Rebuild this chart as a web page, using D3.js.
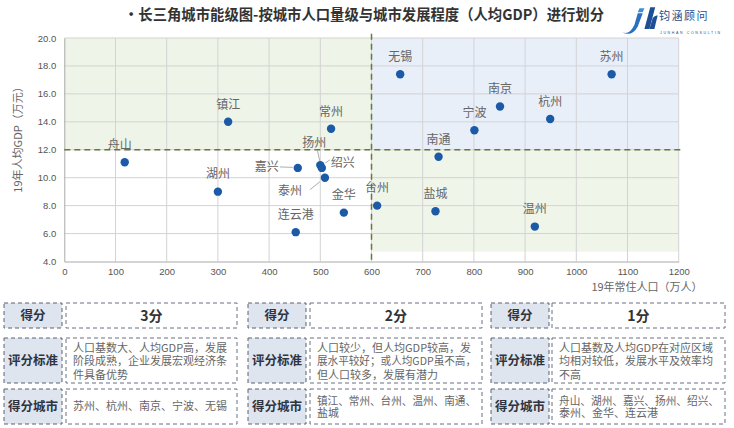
<!DOCTYPE html>
<html><head><meta charset="utf-8">
<script src="https://cdn.jsdelivr.net/npm/d3@7/dist/d3.min.js"></script>
<style>
html,body{margin:0;padding:0;background:#fff;}
svg{display:block;font-family:"Noto Sans CJK SC","Noto Sans",sans-serif;}
</style></head>
<body><svg id="c" width="734" height="428"></svg>
<script>
// ---------- data ----------
const cities = ["舟山","镇江","常州","湖州","嘉兴","扬州","绍兴","泰州","金华","连云港","台州","无锡","苏州","南京","杭州","宁波","南通","盐城","温州"];
const population = [118,320,521,300,456,500,503,509,546,452,611,656,1069,851,949,801,731,725,919];
const gdpPerCapita = [11.1,14.0,13.5,9.0,10.7,10.9,10.7,10.0,7.5,6.1,8.0,17.4,17.4,15.1,14.2,13.4,11.5,7.6,6.5];
const xTicks = [0,100,200,300,400,500,600,700,800,900,1000,1100,1200];
const yTicks = [4,6,8,10,12,14,16,18,20];
const popThreshold = 600;
const gdpThreshold = 12;
const titleText = "•长三角城市能级图-按城市人口量级与城市发展程度（人均GDP）进行划分";
const xTitle = "19年常住人口（万人）";
const yTitle = "19年人均GDP（万元）";
const scoreTitles = ["3分","2分","1分"];
const rowLabels = ["得分","评分标准","得分城市"];
const criteriaLines = [
  ["人口基数大、人均GDP高，发展","阶段成熟，企业发展宏观经济条","件具备优势"],
  ["人口较少，但人均GDP较高，发","展水平较好；或人均GDP虽不高，","但人口较多，发展有潜力"],
  ["人口基数及人均GDP在对应区域","均相对较低，发展水平及效率均","不高"]
];
const cityLines = [
  ["苏州、杭州、南京、宁波、无锡"],
  ["镇江、常州、台州、温州、南通、","盐城"],
  ["舟山、湖州、嘉兴、扬州、绍兴、","泰州、金华、连云港"]
];

// ---------- layout (not data) ----------
const labelLayout = {
  "舟山":{dx:-5,dy:-18}, "嘉兴":{dx:-31,dy:-1,lead:[[-18,-1],[-5,-0.5]]},
  "扬州":{dx:-6,dy:-22,lead:[[-3,-15],[-0.5,-4]]},
  "绍兴":{dx:21,dy:-5,lead:[[8,-8],[3.5,-5]]},
  "泰州":{dx:-35,dy:13,lead:[[-15,12],[-5,4]]}
};

const svg = d3.select("#c");
const M = {l:64.3, r:678.7, t:38, b:261.5};
const x = d3.scaleLinear().domain([0,1200]).range([M.l,M.r]);
const y = d3.scaleLinear().domain([4,20]).range([M.b,M.t]);

function fit(sel, maxW){
  const n = sel.node();
  const w = n.getComputedTextLength();
  if (w > maxW) sel.attr("textLength", maxW).attr("lengthAdjust","spacingAndGlyphs");
}

// title
const tt = svg.append("text").attr("x",364).attr("y",20).attr("text-anchor","middle")
  .attr("font-size",15).attr("font-weight","bold").attr("fill","#333").text(titleText);
fit(tt, 480);

// logo
const logo = svg.append("g").attr("transform","translate(622,4)");
const icon = logo.append("g").attr("transform","scale(0.83)");
icon.append("path").attr("d","M0,34 Q9,38 15,25 L19,11 L25,11 L19,27 Q12,40 0,34 Z").attr("fill","#2a6fc0");
icon.append("path").attr("d","M21,5 L27,5 L25,10 L19,10 Z").attr("fill","#3f8fd8");
icon.append("path").attr("d","M27,30 L34,4 L40,4 L33,30 Z").attr("fill","#1d4f96");
icon.append("path").attr("d","M33,30 L37,17 Q40,13 43,14 L39,30 Z").attr("fill","#1d4f96");
logo.append("text").attr("x",37).attr("y",16).attr("font-size",11).attr("fill","#1f4e8c")
  .attr("letter-spacing",1.5).text("钧涵顾问");
logo.append("text").attr("x",38).attr("y",30).attr("font-size",3.6).attr("fill","#1f4e8c")
  .attr("letter-spacing",1.6).attr("font-family","'Liberation Sans',Arial,sans-serif").text("JUNHAN CONSULTIN");

// quadrant shading
svg.append("rect").attr("x",x(0)).attr("y",y(20)).attr("width",x(popThreshold)-x(0)).attr("height",y(gdpThreshold)-y(20)).attr("fill","#eef4e7");
svg.append("rect").attr("x",x(popThreshold)).attr("y",y(20)).attr("width",x(1200)-x(popThreshold)).attr("height",y(gdpThreshold)-y(20)).attr("fill","#e9eff9");
svg.append("rect").attr("x",x(popThreshold)).attr("y",y(gdpThreshold)).attr("width",x(1200)-x(popThreshold)).attr("height",y(4.7)-y(gdpThreshold)).attr("fill","#f0f5ea");

// grid
svg.append("g").selectAll("line").data(xTicks.slice(1)).join("line")
  .attr("x1",d=>x(d)).attr("x2",d=>x(d)).attr("y1",M.t).attr("y2",M.b)
  .attr("stroke","#d3d3d3").attr("stroke-width",1);
svg.append("g").selectAll("line").data(yTicks.slice(1)).join("line")
  .attr("x1",M.l).attr("x2",M.r).attr("y1",d=>y(d)).attr("y2",d=>y(d))
  .attr("stroke","#d3d3d3").attr("stroke-width",1);

// axes
const xAxis = svg.append("g").attr("transform",`translate(0,${M.b})`)
  .call(d3.axisBottom(x).tickValues(xTicks).tickSize(0).tickPadding(7).tickFormat(d3.format("d")));
const yAxis = svg.append("g").attr("transform",`translate(${M.l},0)`)
  .call(d3.axisLeft(y).tickValues(yTicks).tickSize(0).tickPadding(8).tickFormat(d3.format(".1f")));
[xAxis,yAxis].forEach(a=>{
  a.select(".domain").attr("stroke","#aaa");
  a.selectAll("text").attr("font-size",9.5).attr("fill","#555").attr("font-family","'Liberation Sans',Arial,sans-serif");
});

// threshold dashed lines
svg.append("line").attr("x1",M.l).attr("x2",x(1208)).attr("y1",y(gdpThreshold)).attr("y2",y(gdpThreshold))
  .attr("stroke","#66773f").attr("stroke-width",1.5).attr("stroke-dasharray","6,4");
svg.append("line").attr("x1",x(popThreshold)).attr("x2",x(popThreshold)).attr("y1",y(20.3)).attr("y2",M.b)
  .attr("stroke","#66773f").attr("stroke-width",1.5).attr("stroke-dasharray","6,4");

// axis titles
svg.append("text").attr("x",647).attr("y",291).attr("text-anchor","middle").attr("font-size",11).attr("fill","#666").text(xTitle);
svg.append("text").attr("transform","translate(22,137) rotate(-90)").attr("text-anchor","middle").attr("font-size",11).attr("fill","#666").text(yTitle);

// points + labels
const pts = cities.map((c,i)=>({c, px:x(population[i]), py:y(gdpPerCapita[i])}));
const lg = svg.append("g");
pts.forEach(p=>{
  const L = labelLayout[p.c] || {dx:0,dy:-17.5};
  if(L.lead){
    lg.append("line").attr("x1",p.px+L.lead[0][0]).attr("y1",p.py+L.lead[0][1])
      .attr("x2",p.px+L.lead[1][0]).attr("y2",p.py+L.lead[1][1]).attr("stroke","#999").attr("stroke-width",0.8);
  }
  lg.append("text").attr("x",p.px+L.dx).attr("y",p.py+L.dy).attr("dy","0.36em").attr("text-anchor","middle")
    .attr("font-size",12).attr("fill","#666").text(p.c);
});
svg.append("g").selectAll("circle").data(pts).join("circle")
  .attr("cx",d=>d.px).attr("cy",d=>d.py).attr("r",4.2).attr("fill","#1b5aa6");

// bottom tables
const panels = [
  {lx:4, lw:58, vx:66, vw:171},
  {lx:248, lw:58, vx:310, vw:172},
  {lx:491, lw:58, vx:552, vw:173}
];
const rows = [{y:303,h:25},{y:338,h:45},{y:389,h:35}];

function multiline(g, lines, x0, yFirst, step, maxW){
  const t = g.append("text").attr("font-size",11).attr("fill","#666");
  lines.forEach((s,k)=>{
    const ts = t.append("tspan").attr("x",x0).attr("y",yFirst+k*step).attr("dy","0.36em").text(s);
    const w = ts.node().getComputedTextLength();
    if (w > maxW) ts.attr("textLength",maxW).attr("lengthAdjust","spacingAndGlyphs");
  });
}

panels.forEach((P,pi)=>{
  const g = svg.append("g");
  rows.forEach((R,ri)=>{
    g.append("rect").attr("x",P.lx).attr("y",R.y).attr("width",P.lw).attr("height",R.h)
      .attr("fill","#dfe5ef").attr("stroke","#5b6373").attr("stroke-width",1).attr("stroke-dasharray","4,3");
    g.append("rect").attr("x",P.vx).attr("y",R.y).attr("width",P.vw).attr("height",R.h)
      .attr("fill","#fff").attr("stroke","#6a7080").attr("stroke-width",1).attr("stroke-dasharray","4,3");
    const lt = g.append("text").attr("x",P.lx+P.lw/2).attr("y",R.y+R.h/2).attr("dy","0.36em").attr("text-anchor","middle")
      .attr("font-size",12.5).attr("font-weight","bold").attr("fill","#2e3440").text(rowLabels[ri]);
    fit(lt, P.lw-6);
  });
  g.append("text").attr("x",P.vx+P.vw/2).attr("y",rows[0].y+rows[0].h/2).attr("dy","0.36em").attr("text-anchor","middle")
    .attr("font-size",14).attr("font-weight","bold").attr("fill","#333").text(scoreTitles[pi]);
  const maxW = P.vw - 13;
  multiline(g, criteriaLines[pi], P.vx+7, rows[1].y+10, 13.5, maxW);
  const cl = cityLines[pi];
  const y0 = cl.length===1 ? rows[2].y+rows[2].h/2 : rows[2].y+12;
  multiline(g, cl, P.vx+7, y0, 12, maxW);
});
</script></body></html>
